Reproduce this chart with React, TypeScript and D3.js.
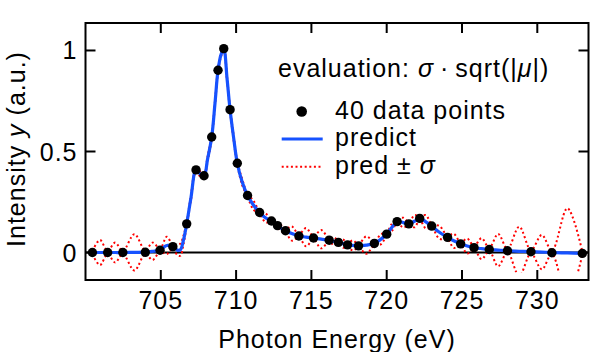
import React from "react";
import * as d3 from "d3";

// measured data points (photon energy in eV, intensity)
const dataE = [700.46, 701.47, 702.48, 703.97, 704.95, 705.8, 706.72, 707.34, 707.87, 708.38, 708.8, 709.18, 709.6, 710.08, 710.76, 711.56, 712.35, 712.75, 713.28, 714.17, 715.14, 716.18, 716.79, 717.4, 718.13, 719.18, 720.0, 720.69, 721.47, 722.19, 722.99, 724.04, 724.91, 725.8, 726.81, 728.02, 729.58, 730.97, 732.99];
const dataY = [0, 0, 0, 0.001, 0.011, 0.029, 0.142, 0.409, 0.38, 0.572, 0.902, 1.009, 0.707, 0.442, 0.282, 0.198, 0.156, 0.133, 0.108, 0.082, 0.072, 0.061, 0.05, 0.038, 0.033, 0.045, 0.091, 0.153, 0.142, 0.169, 0.131, 0.075, 0.043, 0.024, 0.015, 0.009, 0.004, -0.001, -0.004];

// prediction curve and its sigma
const gridE = [700.46, 700.96, 701.47, 701.97, 702.48, 703.25, 703.97, 704.45, 704.95, 705.4, 705.8, 706.1, 706.3, 706.5, 706.72, 707.0, 707.34, 707.6, 707.87, 708.1, 708.38, 708.6, 708.8, 709.0, 709.18, 709.4, 709.6, 709.85, 710.08, 710.4, 710.76, 711.15, 711.56, 711.95, 712.35, 712.55, 712.75, 713.0, 713.28, 713.7, 714.17, 714.65, 715.14, 715.65, 716.18, 716.5, 716.79, 717.1, 717.4, 717.75, 718.13, 718.65, 719.18, 719.6, 720.0, 720.35, 720.69, 721.1, 721.47, 721.85, 722.19, 722.6, 722.99, 723.5, 724.04, 724.45, 724.91, 725.35, 725.8, 726.3, 726.81, 727.4, 728.02, 728.8, 729.58, 730.3, 730.97, 732.0, 732.99];
const predV = [0, 0, 0, 0, 0, 0.001, 0.002, 0.006, 0.012, 0.035, 0.029, 0.012, 0.014, 0.06, 0.142, 0.27, 0.409, 0.39, 0.38, 0.46, 0.572, 0.74, 0.902, 0.98, 1.009, 0.86, 0.707, 0.56, 0.442, 0.35, 0.282, 0.235, 0.198, 0.172, 0.156, 0.144, 0.133, 0.12, 0.108, 0.094, 0.082, 0.076, 0.072, 0.066, 0.061, 0.055, 0.05, 0.044, 0.038, 0.035, 0.033, 0.037, 0.045, 0.065, 0.091, 0.125, 0.153, 0.148, 0.142, 0.155, 0.169, 0.152, 0.131, 0.1, 0.075, 0.058, 0.043, 0.032, 0.024, 0.019, 0.015, 0.012, 0.009, 0.006, 0.004, 0.002, 0, -0.002, -0.004];
const sigmaV = [0.008, 0.062, 0.008, 0.049, 0.008, 0.09, 0.008, 0.043, 0.008, 0.043, 0.008, 0.025, 0.03, 0.022, 0.008, 0.012, 0.008, 0.012, 0.008, 0.012, 0.008, 0.01, 0.008, 0.01, 0.008, 0.01, 0.008, 0.012, 0.008, 0.015, 0.008, 0.022, 0.008, 0.022, 0.008, 0.01, 0.008, 0.015, 0.008, 0.035, 0.008, 0.045, 0.008, 0.045, 0.008, 0.02, 0.008, 0.02, 0.008, 0.025, 0.008, 0.043, 0.008, 0.025, 0.008, 0.018, 0.008, 0.024, 0.008, 0.03, 0.008, 0.033, 0.008, 0.032, 0.008, 0.035, 0.008, 0.037, 0.008, 0.052, 0.008, 0.08, 0.008, 0.122, 0.008, 0.085, 0.008, 0.221, 0.008];

const xTicks = [705, 710, 715, 720, 725, 730];
const yTicks = [0, 0.5, 1];
const yTickLabels = ["0", "0.5", "1"];

const W = 593;
const H = 352;
const FONT = "'Liberation Sans', Arial, Helvetica, sans-serif";
const BLUE = "#1652ff";
const RED = "#ff0000";

export default function App() {
  const x = d3.scaleLinear().domain([700, 733.4]).range([85.5, 588.5]);
  const y = d3.scaleLinear().domain([-0.136, 1.136]).range([280, 23]);
  const [x0, x1] = x.range();
  const [yb, yt] = y.range();

  const curve = d3.curveCatmullRom.alpha(0.5);
  const line = d3
    .line<number>()
    .x((_, i) => x(gridE[i]))
    .y((v) => y(v))
    .curve(curve);

  const predPath = line(predV) || "";
  const upperPath = line(predV.map((p, i) => p + sigmaV[i])) || "";
  const lowerPath = line(predV.map((p, i) => p - sigmaV[i])) || "";

  const fs = 25;
  const ls = 1;

  return (
    <svg
      width={W}
      height={H}
      style={{ position: "absolute", left: 0, top: 0, background: "#fff" }}
      fontFamily={FONT}
    >
      <defs>
        <clipPath id="bandClip">
          <rect x={x0} y={yt} width={x1 - x0} height={y(-0.099) - yt} />
        </clipPath>
      </defs>
      <rect x={0} y={0} width={W} height={H} fill="#fff" />

      {/* zero line */}
      <line x1={x0} x2={x1} y1={y(0)} y2={y(0)} stroke="#000" strokeWidth={2} />

      {/* sigma band */}
      <g clipPath="url(#bandClip)" fill="none" stroke={RED} strokeWidth={2} strokeDasharray="2 2.6">
        <path d={upperPath} />
        <path d={lowerPath} />
      </g>

      {/* prediction */}
      <path d={predPath} fill="none" stroke={BLUE} strokeWidth={3.2} strokeLinejoin="round" />

      {/* data points */}
      {dataE.map((e, i) => (
        <circle key={i} cx={x(e)} cy={y(dataY[i])} r={4.7} fill="#000" />
      ))}

      {/* frame */}
      <rect x={x0} y={yt} width={x1 - x0} height={yb - yt} fill="none" stroke="#000" strokeWidth={2} />

      {/* ticks */}
      {xTicks.map((t) => (
        <g key={"xt" + t}>
          <line x1={x(t)} x2={x(t)} y1={yb} y2={yb - 10} stroke="#000" strokeWidth={2} />
          <line x1={x(t)} x2={x(t)} y1={yt} y2={yt + 10} stroke="#000" strokeWidth={2} />
          <text x={x(t)} y={yb + 29} textAnchor="middle" fontSize={fs} letterSpacing={ls}>
            {t}
          </text>
        </g>
      ))}
      {yTicks.map((t, i) => (
        <g key={"yt" + t}>
          <line x1={x0} x2={x0 + 10} y1={y(t)} y2={y(t)} stroke="#000" strokeWidth={2} />
          <line x1={x1} x2={x1 - 10} y1={y(t)} y2={y(t)} stroke="#000" strokeWidth={2} />
          <text x={x0 - 8} y={y(t) + 9} textAnchor="end" fontSize={fs} letterSpacing={ls}>
            {yTickLabels[i]}
          </text>
        </g>
      ))}

      {/* axis labels */}
      <text x={(x0 + x1) / 2} y={348} textAnchor="middle" fontSize={fs} letterSpacing={ls}>
        Photon Energy (eV)
      </text>
      <text transform="translate(25,149) rotate(-90)" textAnchor="middle" fontSize={fs} letterSpacing={ls}>
        Intensity <tspan fontStyle="italic">y</tspan> (a.u.)
      </text>

      {/* legend */}
      <text x={278} y={77} fontSize={fs} letterSpacing={ls}>
        evaluation: <tspan fontStyle="italic">σ</tspan>{"\u2009·\u2009"}sqrt(|<tspan fontStyle="italic">μ</tspan>|)
      </text>
      <circle cx={301.7} cy={111.5} r={5.3} fill="#000" />
      <text x={335} y={118.5} fontSize={fs} letterSpacing={ls}>
        40 data points
      </text>
      <line x1={281.7} x2={322.7} y1={139} y2={139} stroke={BLUE} strokeWidth={3} />
      <text x={335} y={146} fontSize={fs} letterSpacing={ls}>
        predict
      </text>
      <line x1={281.7} x2={322.7} y1={166.7} y2={166.7} stroke={RED} strokeWidth={2} strokeDasharray="2 2.6" />
      <text x={335} y={173.5} fontSize={fs} letterSpacing={ls}>
        pred ± <tspan fontStyle="italic">σ</tspan>
      </text>
    </svg>
  );
}
